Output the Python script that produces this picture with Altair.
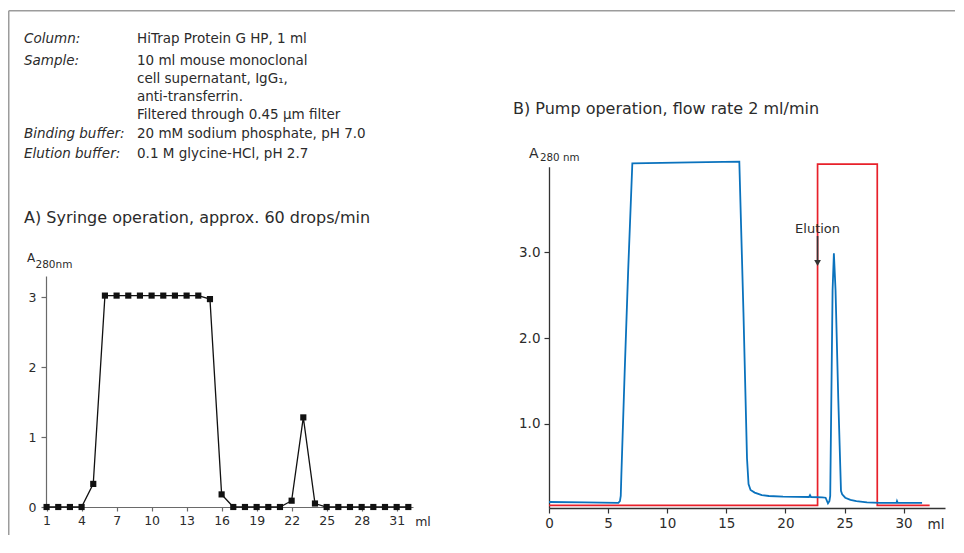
import altair as alt
import pandas as pd

# ---------------- data ----------------
# A) syringe operation: fraction volume (ml) and A280
A_ML = list(range(1, 33))
A_ABS = [0, 0, 0, 0, 0.33, 3.02, 3.02, 3.02, 3.02, 3.02, 3.02, 3.02, 3.02, 3.02, 2.97,
         0.18, 0, 0, 0, 0, 0, 0.09, 1.28, 0.05, 0, 0, 0, 0, 0, 0, 0, 0]
A_XTICKS = [1, 4, 7, 10, 13, 16, 19, 22, 25, 28, 31]
A_YTICKS = [0, 1, 2, 3]

# B) pump operation: UV trace
B_ML = [0, 3, 5.87, 6.0, 6.07, 6.12, 6.4, 6.7, 7.05, 12.0, 16.1,
        16.45, 16.75, 16.88, 17.05, 17.4, 18.0, 18.6, 19.8, 21.0, 22.0,
        22.08, 22.16, 23.1, 23.4, 23.6, 23.72, 23.79, 23.99, 24.1, 24.24, 24.47,
        24.7, 24.8, 25.06, 25.5, 26.0, 26.9, 28.0, 29.4, 29.44, 29.5, 31.56]
B_ABS = [0.09, 0.085, 0.08, 0.1, 0.16, 0.4, 1.6, 2.8, 4.04, 4.05, 4.06,
         2.3, 0.6, 0.3, 0.23, 0.2, 0.17, 0.16, 0.153, 0.15, 0.148,
         0.17, 0.148, 0.145, 0.14, 0.075, 0.1, 0.16, 2.56, 2.99, 2.56, 1.3,
         0.22, 0.18, 0.14, 0.115, 0.1, 0.086, 0.08, 0.08, 0.1, 0.08, 0.08]
# elution buffer step (red)
RED_ML = [0, 22.72, 22.72, 27.77, 27.77, 32.2]
RED_LEVEL = [0.05, 0.05, 4.03, 4.03, 0.05, 0.05]
ELUTION_ML = [22.72]
B_XTICKS = [0, 5, 10, 15, 20, 25, 30]
B_YTICKS = [1.0, 2.0, 3.0]

INFO_KEYS = ["Column:", "Sample:", "", "", "", "Binding buffer:", "Elution buffer:"]
INFO_VALUES = ["HiTrap Protein G HP, 1 ml", "10 ml mouse monoclonal",
               "cell supernatant, IgG\u2081,", "anti-transferrin.",
               "Filtered through 0.45 \u00b5m filter",
               "20 mM sodium phosphate, pH 7.0", "0.1 M glycine-HCl, pH 2.7"]
TITLE_A = "A) Syringe operation, approx. 60 drops/min"
TITLE_B = "B) Pump operation, flow rate 2 ml/min"
UNIT = "ml"
ELUTION_LABEL = "Elution"

# ---------------- layout ----------------
FONT = "DejaVu Sans"
TXT = "#2b2b2b"
PX, PY = 46, 160          # page position of the plot origin
W, H = 900, 348

def vx(p):
    return p - PX

def vy(p):
    return p - PY

dfA = pd.DataFrame({"ml": A_ML, "abs": A_ABS})
dfB = pd.DataFrame({"ml": B_ML, "abs": B_ABS})
dfR = pd.DataFrame({"ml": RED_ML, "abs": RED_LEVEL, "step": list(range(len(RED_ML)))})
dfE = pd.DataFrame({"ml": ELUTION_ML})

axA_common = dict(grid=False, title=None, labelFont=FONT, labelColor=TXT,
                  domainColor="#6a6a6a", tickColor="#6a6a6a", labelFontSize=12.5,
                  labelOverlap=False, labelFlush=False, domainWidth=1.2, tickWidth=1.2)
xA = alt.X("ml:Q",
           scale=alt.Scale(domain=[0.95, 32.4], range=[vx(46), vx(413)], nice=False, zero=False),
           axis=alt.Axis(orient="bottom", offset=-1, values=A_XTICKS, tickSize=4,
                         labelPadding=3, **axA_common))
yA = alt.Y("abs:Q",
           scale=alt.Scale(domain=[0, 3.3], range=[vy(507), vy(276)], nice=False, zero=False),
           axis=alt.Axis(orient="left", values=A_YTICKS, format="d", tickSize=5,
                         labelPadding=5, **axA_common))

lineA = alt.Chart(dfA).mark_line(color="#111111", strokeWidth=1.3).encode(x=xA, y=yA)
ptsA = alt.Chart(dfA).mark_square(color="#111111", size=38, opacity=1).encode(x=xA, y=yA)
layerA = alt.layer(lineA, ptsA)

axB_common = dict(grid=False, title=None, labelFont=FONT, labelColor=TXT,
                  domainColor="#333333", tickColor="#333333", labelFontSize=13.5,
                  labelOverlap=False, labelFlush=False, domainWidth=1.3, tickWidth=1.2)
xB = alt.X("ml:Q",
           scale=alt.Scale(domain=[0, 33.5], range=[vx(549), vx(945)], nice=False, zero=False),
           axis=alt.Axis(orient="bottom", values=B_XTICKS, tickSize=5, labelPadding=3,
                         **axB_common))
yB = alt.Y("abs:Q",
           scale=alt.Scale(domain=[0.02, 4.0], range=[vy(508), vy(166.7)], nice=False, zero=False),
           axis=alt.Axis(orient="left", offset=-(549 - PX), values=B_YTICKS, format=".1f",
                         tickSize=5, labelPadding=4, **axB_common))

blueB = alt.Chart(dfB).mark_line(color="#0a72bd", strokeWidth=1.8).encode(x=xB, y=yB)
redB = alt.Chart(dfR).mark_line(color="#e8202a", strokeWidth=1.7).encode(
    x=xB, y=yB, order="step:Q")
arrow = alt.Chart(dfE).mark_rule(color="#333333", strokeWidth=1.6).encode(
    x=xB, y=alt.value(vy(236)), y2=alt.value(vy(260)))
head = alt.Chart(dfE).mark_point(shape="triangle-down", filled=True, color="#333333",
                                 size=45, opacity=1).encode(x=xB, y=alt.value(vy(263)))
elab = alt.Chart(dfE).mark_text(text=ELUTION_LABEL, font=FONT, fontSize=13, color=TXT,
                                baseline="middle", align="center").encode(
    x=xB, y=alt.value(vy(228.5)))
layerB = alt.layer(redB, blueB, arrow, head, elab)


def txt(s, x, y, size=14, italic=False, align="left", baseline="middle"):
    kw = dict(text=s, font=FONT, fontSize=size, color=TXT, align=align, baseline=baseline)
    if italic:
        kw["fontStyle"] = "italic"
    return alt.Chart().mark_text(**kw).encode(x=alt.value(vx(x)), y=alt.value(vy(y)))


ann = []
ROW_Y = [39, 61, 79, 97, 115, 134, 154]
for k, v, ry in zip(INFO_KEYS, INFO_VALUES, ROW_Y):
    if k:
        ann.append(txt(k, 24, ry, size=13.5, italic=True))
    ann.append(txt(v, 137, ry, size=13.5))
ann.append(txt(TITLE_A, 24, 218, size=16))
ann.append(txt(TITLE_B, 513, 109, size=16))
# y axis titles  A_280nm
ann.append(txt("A", 27, 262, size=12, baseline="alphabetic"))
ann.append(txt("280nm", 35.5, 268, size=10.5, baseline="alphabetic"))
ann.append(txt("A", 529, 158, size=14, baseline="alphabetic"))
ann.append(txt("280 nm", 540, 161, size=10.3, baseline="alphabetic"))
# unit labels
ann.append(txt(UNIT, 423, 522, size=12.5, align="center"))
ann.append(txt(UNIT, 936, 525, size=13.5, align="center"))

# frame (top and left border)
FR = "#9c9c9c"
ann.append(alt.Chart().mark_rule(color=FR, strokeWidth=1.5).encode(
    x=alt.value(vx(8.75)), x2=alt.value(vx(955)), y=alt.value(vy(10.75))))
ann.append(alt.Chart().mark_rule(color=FR, strokeWidth=1.5).encode(
    x=alt.value(vx(8.75)), y=alt.value(vy(10.75)), y2=alt.value(vy(535))))

chart = alt.layer(layerA, layerB, *ann).resolve_scale(
    x="independent", y="independent").resolve_axis(
    x="independent", y="independent").properties(
    width=W, height=H, padding={"left": 0, "top": 2, "right": 0, "bottom": 0}
).configure(font=FONT).configure_view(strokeWidth=0, strokeOpacity=0)

chart.save("out.html", embed_options={"renderer": "svg", "actions": False})
